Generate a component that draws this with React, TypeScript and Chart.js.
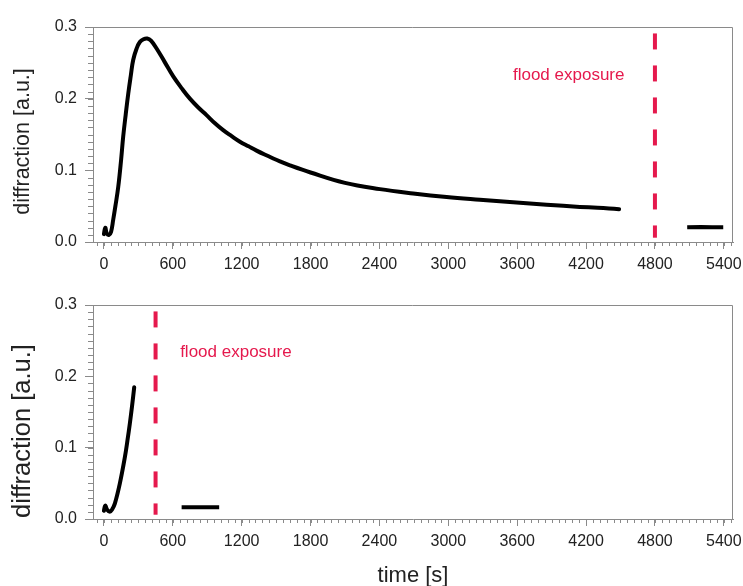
import React, { useEffect, useRef } from 'react';
import { Chart, registerables } from 'chart.js';

Chart.register(...registerables);

// ---- axes ----
const xMajorTicks = [0, 600, 1200, 1800, 2400, 3000, 3600, 4200, 4800, 5400];
const yMajorTicks = [0, 0.1, 0.2, 0.3];
const xMinorStep = 60;
const yMinorStep = 0.01;
const xRange = [-95, 5480];
const yRange = [0, 0.3];

// ---- top panel ----
const topTime = [0, 12, 25, 45, 62, 81, 100, 125, 150, 168, 190, 212, 235, 255, 285, 313, 345, 377, 410, 459, 530, 604, 680, 749, 820, 894, 965, 1039, 1110, 1185, 1260, 1330, 1400, 1475, 1533, 1620, 1800, 2100, 2404, 2694, 2985, 3275, 3565, 3856, 4146, 4300, 4400, 4488];
const topSignal = [0.011, 0.02, 0.012, 0.01, 0.014, 0.031, 0.05, 0.077, 0.115, 0.147, 0.178, 0.207, 0.233, 0.254, 0.27, 0.279, 0.283, 0.284, 0.281, 0.27, 0.251, 0.231, 0.214, 0.2, 0.188, 0.177, 0.166, 0.156, 0.148, 0.14, 0.1335, 0.1275, 0.122, 0.1165, 0.1125, 0.107, 0.097, 0.0825, 0.0738, 0.0678, 0.0628, 0.059, 0.0555, 0.052, 0.049, 0.0477, 0.0468, 0.0458];
const topAfterTime = [5081, 5200, 5300, 5395];
const topAfterSignal = [0.0205, 0.0208, 0.0205, 0.0206];
const topFloodTime = 4800;
const topLabelAt = [3563, 0.233];

// ---- bottom panel ----
const bottomTime = [0, 12, 28, 52, 70, 96, 139, 183, 205, 226, 245, 264];
const bottomSignal = [0.0116, 0.0187, 0.013, 0.0103, 0.013, 0.022, 0.05, 0.087, 0.11, 0.134, 0.158, 0.1846];
const bottomAfterTime = [677, 800, 900, 1004];
const bottomAfterSignal = [0.0164, 0.0164, 0.0164, 0.0164];
const bottomFloodTime = 450;
const bottomLabelAt = [664, 0.233];

const floodSpan = [0.291, 0.006];
const floodLabel = 'flood exposure';
const yTitle = 'diffraction [a.u.]';
const xTitle = 'time [s]';

const FONT = '"Liberation Sans", Arial, sans-serif';
const AXIS = '#8a8a8a';
const RED = '#e5194d';
const TEXT = '#222';

const pts = (xs: number[], ys: number[]) => xs.map((x, i) => ({ x, y: ys[i] }));

const decorPlugin = {
  id: 'decor',
  afterDraw(chart: any, _args: any, opts: any) {
    const { ctx, chartArea: a, scales } = chart;
    const x = scales.x;
    const y = scales.y;
    ctx.save();
    ctx.strokeStyle = AXIS;
    ctx.lineWidth = 1;
    ctx.beginPath();
    ctx.moveTo(a.left, Math.round(a.top) + 0.5);
    ctx.lineTo(Math.round(a.right) - 0.5, Math.round(a.top) + 0.5);
    ctx.lineTo(Math.round(a.right) - 0.5, a.bottom);
    for (let v = Math.ceil(x.min / xMinorStep) * xMinorStep; v <= x.max; v += xMinorStep) {
      const px = Math.round(x.getPixelForValue(v)) + 0.5;
      ctx.moveTo(px, a.bottom);
      ctx.lineTo(px, a.bottom + 4);
    }
    const n = Math.round((y.max - y.min) / yMinorStep);
    for (let i = 0; i <= n; i++) {
      const py = Math.round(y.getPixelForValue(y.min + i * yMinorStep)) + 0.5;
      ctx.moveTo(a.left - 5, py);
      ctx.lineTo(a.left, py);
    }
    ctx.stroke();
    // flood label
    ctx.fillStyle = RED;
    ctx.font = '17px ' + FONT;
    ctx.textAlign = 'left';
    ctx.textBaseline = 'middle';
    ctx.fillText(opts.text, x.getPixelForValue(opts.at[0]), y.getPixelForValue(opts.at[1]));
    // y title
    ctx.fillStyle = TEXT;
    ctx.font = opts.titleSize + 'px ' + FONT;
    ctx.textAlign = 'center';
    ctx.textBaseline = 'middle';
    ctx.translate(23, (a.top + a.bottom) / 2 + opts.titleShift);
    ctx.rotate(-Math.PI / 2);
    ctx.fillText(yTitle, 0, 0);
    ctx.restore();
  },
};

function makeConfig(main: any[], after: any[], flood: number, labelAt: number[], padTop: number, xHeight: number, showXTitle: boolean, titleSize: number, titleShift: number): any {
  return {
    type: 'scatter',
    data: {
      datasets: [
        { data: main, showLine: true, borderColor: '#000', borderWidth: 4, pointRadius: 0, tension: 0.4, borderCapStyle: 'round', borderJoinStyle: 'round' },
        { data: after, showLine: true, borderColor: '#000', borderWidth: 4, pointRadius: 0, borderCapStyle: 'butt' },
        { data: [{ x: flood, y: floodSpan[0] }, { x: flood, y: floodSpan[1] }], showLine: true, borderColor: RED, borderWidth: 4, borderDash: [16, 16], pointRadius: 0, borderCapStyle: 'butt' },
      ],
    },
    options: {
      animation: false,
      responsive: false,
      devicePixelRatio: 1,
      layout: { padding: { top: padTop, right: 10, left: 0, bottom: 0 } },
      plugins: {
        legend: { display: false },
        tooltip: { enabled: false },
        decor: { text: floodLabel, at: labelAt, titleSize, titleShift },
      },
      scales: {
        x: {
          type: 'linear',
          min: xRange[0],
          max: xRange[1],
          afterBuildTicks: (s: any) => { s.ticks = xMajorTicks.map((v) => ({ value: v })); },
          afterFit: (s: any) => { s.height = xHeight; s.paddingLeft = 0; s.paddingRight = 0; },
          ticks: { color: TEXT, font: { family: FONT, size: 16 }, padding: 6, maxRotation: 0, autoSkip: false, callback: (v: any) => String(v) },
          grid: { display: true, drawOnChartArea: false, drawTicks: true, tickLength: 7, color: AXIS, lineWidth: 1 },
          border: { display: true, color: AXIS, width: 1 },
          title: { display: showXTitle, text: xTitle, color: TEXT, font: { family: FONT, size: 22 }, padding: { top: 0, bottom: 1 } },
        },
        y: {
          type: 'linear',
          min: yRange[0],
          max: yRange[1],
          afterBuildTicks: (s: any) => { s.ticks = yMajorTicks.map((v) => ({ value: v })); },
          afterFit: (s: any) => { s.width = 93; s.paddingTop = 0; s.paddingBottom = 0; },
          ticks: { color: TEXT, font: { family: FONT, size: 16 }, padding: 8, callback: (v: any) => Number(v).toFixed(1) },
          grid: { display: true, drawOnChartArea: false, drawTicks: true, tickLength: 8, color: AXIS, lineWidth: 1 },
          border: { display: true, color: AXIS, width: 1 },
          title: { display: false },
        },
      },
    },
    plugins: [decorPlugin],
  };
}

export default function App() {
  const topRef = useRef<HTMLCanvasElement>(null);
  const botRef = useRef<HTMLCanvasElement>(null);
  useEffect(() => {
    const c1 = new Chart(topRef.current as any, makeConfig(pts(topTime, topSignal), pts(topAfterTime, topAfterSignal), topFloodTime, topLabelAt, 27, 48, false, 21.5, 7));
    const c2 = new Chart(botRef.current as any, makeConfig(pts(bottomTime, bottomSignal), pts(bottomAfterTime, bottomAfterSignal), bottomFloodTime, bottomLabelAt, 15, 71, true, 25.5, 19));
    return () => { c1.destroy(); c2.destroy(); };
  }, []);
  return (
    <div style={{ position: 'absolute', left: 0, top: 0, width: 743, height: 586, background: '#fff', overflow: 'hidden' }}>
      <canvas ref={topRef} width={743} height={290} style={{ position: 'absolute', left: 0, top: 0, display: 'block' }} />
      <canvas ref={botRef} width={743} height={300} style={{ position: 'absolute', left: 0, top: 290, display: 'block' }} />
    </div>
  );
}
